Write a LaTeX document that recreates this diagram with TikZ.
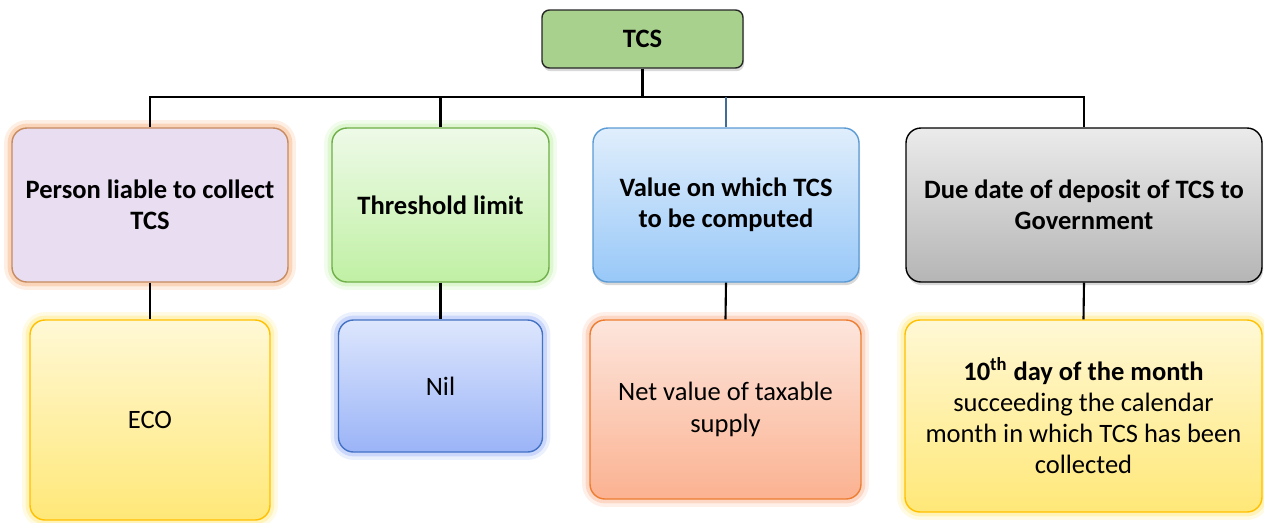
\documentclass[tikz,border=0pt]{standalone}
\usepackage{fontspec}
\setmainfont{Carlito}
\usetikzlibrary{shadows}

\definecolor{verdeR}{HTML}{A9D18E}
\definecolor{lila}{HTML}{E9DDF2}
\definecolor{naranjaB}{HTML}{F7AE78}
\definecolor{verdeA}{HTML}{EEFAE8}
\definecolor{verdeB}{HTML}{C0F0A4}
\definecolor{verdeL}{HTML}{6FAE48}
\definecolor{azulA}{HTML}{E0EEFC}
\definecolor{azulB}{HTML}{98C8F8}
\definecolor{azulL}{HTML}{5B9BD5}
\definecolor{grisA}{HTML}{EBEBEB}
\definecolor{grisB}{HTML}{B5B5B5}
\definecolor{amarA}{HTML}{FFF8D5}
\definecolor{amarB}{HTML}{FFE878}
\definecolor{amarL}{HTML}{FFC000}
\definecolor{anilA}{HTML}{DDE6FD}
\definecolor{anilB}{HTML}{9BB4F7}
\definecolor{anilL}{HTML}{4472C4}
\definecolor{salmA}{HTML}{FDE5DC}
\definecolor{salmB}{HTML}{FBB291}
\definecolor{salmL}{HTML}{ED7D31}

\providecommand{\letra}{\fontsize{15.1}{17.8}\selectfont}
\providecommand{\bajada}[2]{
    \draw[linea] (#1.south) -- (#2.north);
}

\begin{document}
\begin{tikzpicture}[
    font=\letra,
    caja/.style={draw, rounded corners=0.3cm, align=center, line width=0.8pt, inner sep=2pt},
    brillo/.style={preaction={draw=#1, line width=9pt, opacity=0.2}, preaction={draw=#1, line width=5pt, opacity=0.4}},
    sombra/.style={drop shadow={shadow xshift=0.6pt, shadow yshift=-1.8pt, opacity=0.3}},
    raiz/.style={caja, fill=verdeR, draw=black!85, rounded corners=0.15cm, minimum width=4.02cm, minimum height=1.16cm, font=\letra\bfseries, sombra},
    categoria/.style={caja, minimum height=3.08cm, font=\letra\bfseries},
    hoja/.style={caja},
    linea/.style={line width=1.2pt, black}
]

    % MARGENES
    \useasboundingbox (0,0) rectangle (25.28,-10.44);

    % RAIZ
    \node[raiz] (R) at (12.85,-0.78) {TCS};
    \coordinate (bus) at (0,-1.94);

    % CATEGORIAS
    \node[categoria, minimum width=5.52cm, fill=lila, draw=naranjaB!80!black, brillo=naranjaB] (C1) at (3.00,-4.10) {Person liable to collect\\TCS};
    \node[categoria, minimum width=4.34cm, top color=verdeA, bottom color=verdeB, draw=verdeL, brillo=verdeB] (C2) at (8.81,-4.10) {Threshold limit};
    \node[categoria, minimum width=5.32cm, top color=azulA, bottom color=azulB, draw=azulL, sombra] (C3) at (14.52,-4.10) {Value on which TCS\\to be computed};
    \node[categoria, minimum width=7.12cm, top color=grisA, bottom color=grisB, draw=black, sombra] (C4) at (21.68,-4.10) {Due date of deposit of TCS to\\Government};

    % HOJAS
    \node[hoja, minimum width=4.80cm, minimum height=4.00cm, top color=amarA, bottom color=amarB, draw=amarL, brillo=amarB] (H1) at (3.00,-8.40) {ECO};
    \node[hoja, minimum width=4.08cm, minimum height=2.64cm, top color=anilA, bottom color=anilB, draw=anilL, brillo=anilB] (H2) at (8.81,-7.72) {Nil};
    \node[hoja, minimum width=5.42cm, minimum height=3.58cm, top color=salmA, bottom color=salmB, draw=salmL, brillo=salmB] (H3) at (14.51,-8.19) {Net value of taxable\\supply};
    \node[hoja, minimum width=7.14cm, minimum height=3.84cm, top color=amarA, bottom color=amarB, draw=amarL, brillo=amarB] (H4) at (21.67,-8.32) {{\bfseries 10\textsuperscript{th} day of the month}\\succeeding the calendar\\month in which TCS has been\\collected};

    % CONECTORES
    \draw[linea] (R.south) -- (R.south |- bus);
    \draw[linea] (C1.north) -- (C1.north |- bus) -- (C4.north |- bus) -- (C4.north);
    \draw[linea] (C2.north) -- (C2.north |- bus);
    \draw[linea, azulL!70!black, line width=0.9pt] (C3.north) -- (C3.north |- bus);
    \bajada{C1}{H1}
    \bajada{C2}{H2}
    \bajada{C3}{H3}
    \bajada{C4}{H4}

\end{tikzpicture}
\end{document}
